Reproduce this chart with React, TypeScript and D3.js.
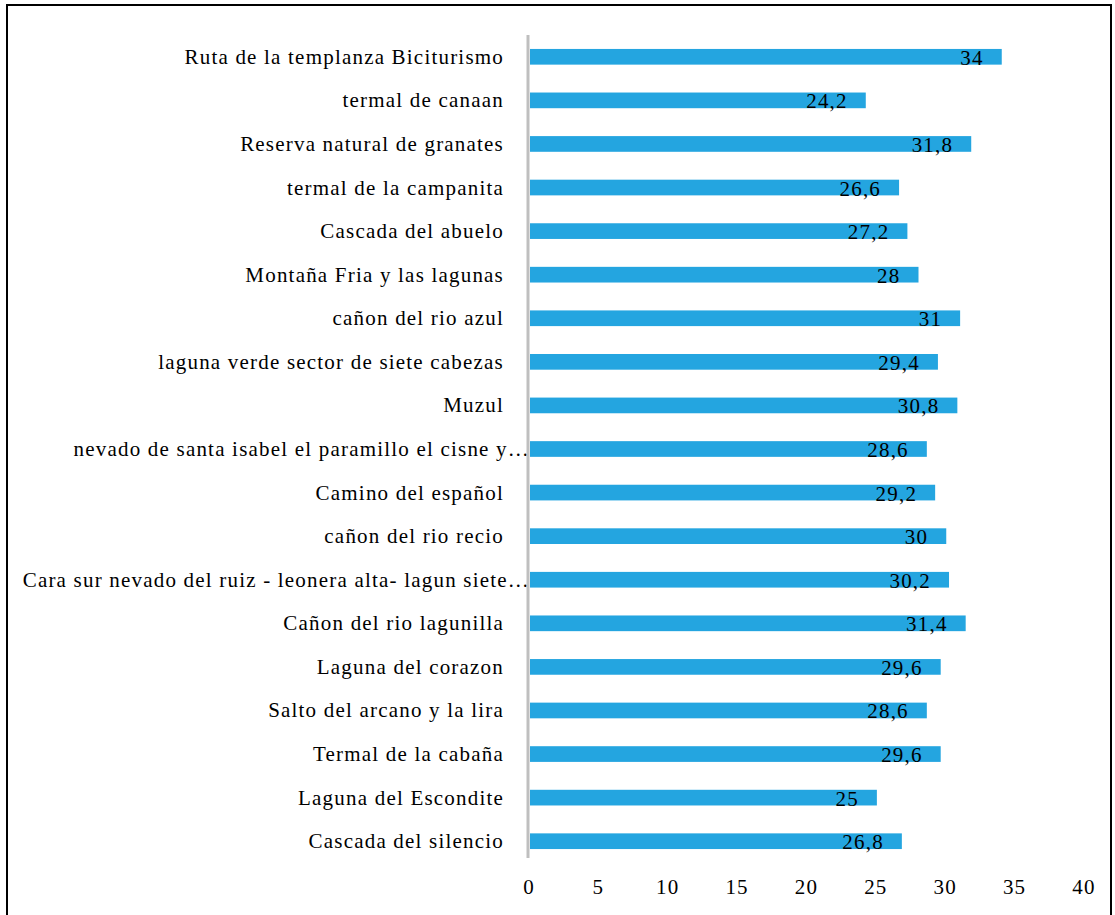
import React from "react";
import * as d3 from "d3";

const categories = [
  "Ruta de la templanza Biciturismo",
  "termal de canaan",
  "Reserva natural de granates",
  "termal de la campanita",
  "Cascada del abuelo",
  "Montaña Fria y las lagunas",
  "cañon del rio azul",
  "laguna verde sector de siete cabezas",
  "Muzul",
  "nevado de santa isabel el paramillo el cisne y…",
  "Camino del español",
  "cañon del rio recio",
  "Cara sur nevado del ruiz - leonera alta- lagun siete…",
  "Cañon del rio lagunilla",
  "Laguna del corazon",
  "Salto del arcano y la lira",
  "Termal de la cabaña",
  "Laguna del Escondite",
  "Cascada del silencio",
];
const values = [34, 24.2, 31.8, 26.6, 27.2, 28, 31, 29.4, 30.8, 28.6, 29.2, 30, 30.2, 31.4, 29.6, 28.6, 29.6, 25, 26.8];
const xTicks = [0, 5, 10, 15, 20, 25, 30, 35, 40];

const W = 1115;
const H = 915;

export default function App() {
  const x = d3.scaleLinear().domain([0, 40]).range([530, 1085]);
  const y = d3.scaleBand<string>().domain(categories).range([35, 863]).paddingInner(0.64).paddingOuter(0.32);
  const fmt = (v: number) => String(v).replace(".", ",");
  const font = "'Liberation Serif', 'Times New Roman', serif";
  const fs = 21;
  const ls = 1.2;
  return (
    <svg width={W} height={H} style={{ position: "absolute", left: 0, top: 0, background: "#fff" }}>
      <rect x={7} y={5} width={1104} height={920} fill="#fff" stroke="#000" strokeWidth={2} />
      {categories.map((c, i) => {
        const yy = y(c)!;
        const bh = y.bandwidth();
        const truncated = c.endsWith("…");
        return (
          <g key={c}>
            <rect x={x(0)} y={yy} width={x(values[i]) - x(0)} height={bh} fill="#24A5E0" />
            <text
              x={truncated ? 530 : 504}
              y={yy + bh / 2 + 7}
              textAnchor="end"
              fontFamily={font}
              fontSize={fs}
              letterSpacing={ls}
              fill="#000"
            >
              {c}
            </text>
            <text
              x={x(values[i]) - 18}
              y={yy + bh / 2 + 8}
              textAnchor="end"
              fontFamily={font}
              fontSize={fs}
              letterSpacing={ls}
              fill="#000"
            >
              {fmt(values[i])}
            </text>
          </g>
        );
      })}
      <line x1={528} x2={528} y1={35} y2={858} stroke="#BFBFBF" strokeWidth={3} />
      {xTicks.map((t) => (
        <text key={t} x={x(t) - 1} y={894} textAnchor="middle" fontFamily={font} fontSize={fs} letterSpacing={ls} fill="#000">
          {t}
        </text>
      ))}
    </svg>
  );
}
